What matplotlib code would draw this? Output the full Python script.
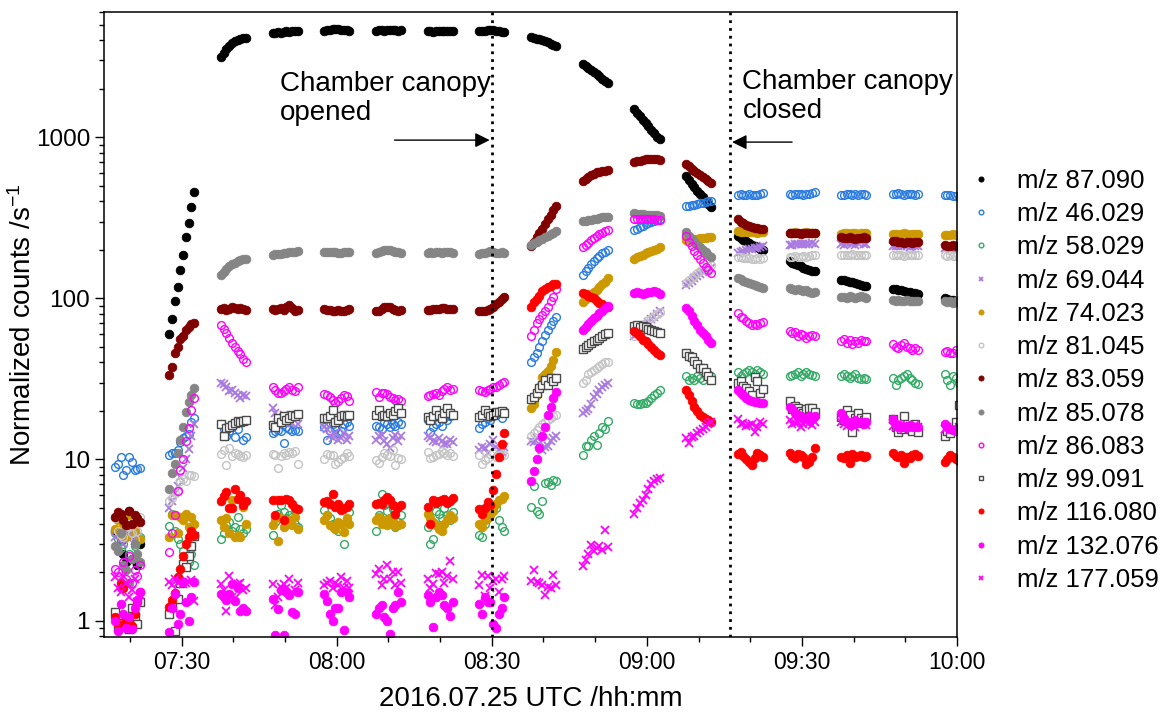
import matplotlib
matplotlib.use("Agg")
import matplotlib.pyplot as plt
from matplotlib.ticker import FixedLocator, FuncFormatter, LogLocator, NullFormatter

plt.rcParams['font.family'] = ['Liberation Sans', 'DejaVu Sans']
plt.rcParams['mathtext.fontset'] = 'custom'
plt.rcParams['mathtext.rm'] = 'Liberation Sans'
plt.rcParams['mathtext.default'] = 'regular'

# ---------------- data ----------------
# start of each measurement cycle, minutes after midnight (UTC)
cycle_start_min = [437.15, 447.6, 457.6, 467.6, 477.6, 487.6, 497.6, 507.6, 517.6,
                   527.6, 537.6, 547.6, 557.6, 567.6, 577.6, 587.6, 597.6]
sample_step_min = 0.54          # spacing of the samples within one cycle
canopy_open_min = 510.0         # 08:30
canopy_close_min = 556.0        # 09:16

labels = ['m/z 87.090', 'm/z 46.029', 'm/z 58.029', 'm/z 69.044', 'm/z 74.023',
          'm/z 81.045', 'm/z 83.059', 'm/z 85.078', 'm/z 86.083', 'm/z 99.091',
          'm/z 116.080', 'm/z 132.076', 'm/z 177.059']

mz_87_090 = [
    [3.6, 4.5, 3.1, 2.6, 2.3, 4.8, 2.4, 3.3, 2.2, 3.0],
    [60, 75, 97, 118, 150, 187, 240, 295, 371, 460],
    [3140, 3350, 3550, 3700, 3850, 3950, 4030, 4080, 4120, 4150],
    [4420, 4450, 4480, 4470, 4520, 4550, 4530, 4580, 4560, 4600],
    [4600, 4620, 4650, 4680, 4700, 4690, 4660, 4640, 4620, 4600],
    [4600, 4610, 4620, 4600, 4620, 4650, 4630, 4610, 4600, 4620],
    [4550, 4560, 4540, 4570, 4580, 4560, 4550, 4570, 4590, 4580],
    [4550, 4580, 4600, 4620, 4640, 4620, 4590, 4560, 4540, 4520],
    [4190, 4150, 4100, 4050, 4000, 3950, 3880, 3820, 3760, 3710],
    [2860, 2780, 2700, 2620, 2540, 2460, 2390, 2310, 2240, 2175],
    [1500, 1420, 1350, 1290, 1230, 1170, 1110, 1060, 1010, 975],
    [576, 545, 515, 490, 465, 445, 425, 405, 388, 371],
    [244, 238, 232, 226, 221, 216, 212, 208, 204, 201],
    [170, 167, 164, 161, 158, 155, 152, 150, 148, 147],
    [131, 130, 128, 127, 126, 124, 122, 121, 120, 119],
    [115, 114, 113, 112, 111, 110, 109, 108, 108, 107],
    [100, 99, 98, 98, 97, 97],
]
mz_46_029 = [
    [9.0, 9.4, 10.3, 8.0, 8.6, 10.4, 9.6, 8.6, 8.7, 8.9],
    [10.7, 10.9, 11.0, 11.5, 12.9, 13.6, 14.0, 14.3, 17.0, 18.0],
    [16.5, 15.4, 14.0, 15.0, 16.0, 13.7, 15.5, 17.0, 13.3, 13.8],
    [14.5, 15.0, 15.2, 15.0, 12.6, 16.0, 15.5, 15.0, 15.2, 15.0],
    [16.0, 13.3, 15.0, 16.5, 15.5, 14.5, 15.0, 16.5, 17.0, 16.1],
    [16.1, 16.0, 15.5, 17.0, 16.5, 16.0, 16.7, 16.2, 17.0, 16.5],
    [17.5, 14.9, 16.0, 16.5, 17.0, 16.2, 18.0, 17.7, 18.5, 19.0],
    [15.6, 16.7, 17.0, 18.0, 17.5, 18.5, 19.0, 19.5, 18.0, 20.0],
    [40, 43, 46, 50, 54, 59, 64, 68, 72, 77],
    [140, 148, 155, 163, 170, 177, 183, 190, 195, 200],
    [265, 270, 276, 282, 288, 293, 298, 302, 305, 310],
    [372, 375, 378, 382, 386, 389, 392, 396, 400, 404],
    [440, 443, 441, 438, 442, 440, 439, 441, 443, 448],
    [444, 440, 442, 446, 443, 441, 445, 444, 450, 458],
    [440, 437, 442, 445, 441, 443, 440, 442, 444, 441],
    [442, 446, 449, 444, 441, 445, 447, 443, 440, 442],
    [438, 441, 436, 432, 430, 428],
]
mz_58_029 = [
    [3.5, 3.2, 2.8, 3.0, 3.6, 2.6, 3.4, 2.9, 3.1, 3.3],
    [3.85, 4.6, 3.6, 3.2, 3.0, 2.7, 2.5, 2.3, 2.6, 2.2],
    [3.2, 3.5, 3.9, 4.1, 3.6, 3.8, 4.4, 3.7, 3.5, 3.7],
    [3.4, 4.1, 4.6, 5.2, 4.7, 4.3, 4.5, 4.4, 4.0, 3.8],
    [4.85, 4.5, 4.3, 4.0, 3.9, 3.6, 3.7, 3.0, 4.2, 4.7],
    [3.6, 4.5, 6.1, 5.2, 4.8, 4.2, 4.9, 3.8, 4.1, 4.5],
    [3.8, 3.0, 3.2, 4.8, 4.6, 4.3, 5.0, 4.5, 4.2, 4.7],
    [3.4, 3.3, 4.0, 4.5, 4.7, 4.9, 5.0, 4.2, 3.8, 3.6],
    [5.1, 6.8, 4.8, 4.6, 5.5, 7.1, 7.2, 6.9, 7.5, 7.3],
    [10.6, 12.2, 12.2, 13.2, 13.9, 12.3, 14.5, 16.0, 15.5, 17.4],
    [22.3, 22.0, 22.0, 22.5, 22.3, 23.0, 24.0, 25.0, 26.0, 27.0],
    [33, 31, 32, 31, 33, 32, 31, 33, 34, 33],
    [35, 33, 34, 35, 36, 35, 34, 36, 35, 34],
    [33, 33.5, 34, 35, 33, 34, 35, 34, 33.5, 33],
    [33, 34, 33, 32, 33, 34, 32, 31.5, 32, 31.6],
    [32, 29, 31, 32, 33, 34, 32, 31, 30, 29.5],
    [34, 31, 29, 33, 32, 30],
]
mz_69_044 = [
    [3.3, 3.5, 3.2, 3.0, 3.6, 3.2, 3.4, 3.1, 3.3, 3.2],
    [5.0, 5.5, 6.2, 6.8, 7.8, 8.8, 10.0, 11.6, 14.0, 16.6],
    [30, 29.5, 28, 26.5, 27, 26, 25, 24, 25, 24.6],
    [21, 19.5, 18.5, 17.5, 19, 18, 17, 16.8, 18.5, 16.5],
    [16, 15.4, 14, 13.5, 14.5, 13.2, 13.6, 14.5, 13.3, 14],
    [13.2, 14, 14.2, 13, 12.5, 11.7, 13.5, 14.2, 13, 14],
    [14, 13.5, 13, 12.8, 13.5, 13, 12.5, 12.5, 13.2, 12.8],
    [11.5, 12, 11.7, 11, 12.5, 13.2, 12, 11.5, 11.2, 12],
    [13, 12.8, 13.5, 12.5, 11.4, 12, 12.2, 13, 13.5, 13.9],
    [19.4, 20, 20.7, 22, 24.5, 25.5, 27, 28, 29, 30],
    [58, 60, 62, 65, 68, 71, 74, 77, 80, 84],
    [121, 125, 129, 133, 137, 141, 145, 148, 151, 155],
    [190, 195, 196, 200, 202, 204, 205, 206, 208, 210],
    [215, 216, 218, 217, 219, 218, 217, 219, 220, 218],
    [218, 215, 220, 222, 218, 216, 220, 223, 219, 217],
    [211, 213, 210, 212, 214, 211, 209, 212, 213, 210],
    [205, 207, 204, 206, 203, 205],
]
mz_74_023 = [
    [3.7, 4.2, 3.4, 4.0, 3.3, 4.5, 3.8, 3.6, 4.1, 3.2],
    [3.3, 4.5, 4.5, 3.5, 4.4, 4.2, 4.6, 3.8, 4.4, 4.0],
    [4.2, 3.8, 4.3, 3.5, 5.6, 3.3, 3.4, 3.3, 5.1, 4.0],
    [3.9, 4.3, 3.1, 4.3, 3.8, 4.0, 4.2, 3.9, 4.4, 3.7],
    [4.2, 4.5, 3.9, 3.8, 3.7, 4.1, 4.0, 3.55, 4.3, 4.0],
    [4.2, 4.4, 4.0, 4.2, 3.9, 4.3, 4.1, 3.85, 3.9, 4.0],
    [4.6, 4.3, 4.1, 3.9, 3.7, 3.6, 4.0, 4.2, 4.5, 4.3],
    [4.0, 3.8, 4.2, 4.3, 4.5, 4.8, 5.3, 5.6, 5.7, 5.9],
    [21, 22, 25, 28, 32.7, 34, 35.6, 38, 41.4, 46.7],
    [95, 99, 102, 106, 110, 113, 118, 122, 127, 134],
    [176, 180, 183, 186, 190, 193, 197, 200, 203, 207],
    [230, 232, 233, 234, 235, 236, 237, 238, 240, 242],
    [262, 260, 258, 261, 259, 257, 258, 256, 258, 257],
    [255, 256, 257, 255, 254, 256, 257, 255, 256, 254],
    [252, 255, 253, 250, 254, 256, 252, 253, 255, 254],
    [250, 252, 249, 251, 253, 250, 248, 251, 252, 250],
    [247, 249, 246, 250, 248, 245],
]
mz_81_045 = [
    [4.3, 3.6, 3.4, 3.3, 4.0, 3.8, 3.5, 3.2, 3.6, 4.4],
    [5.5, 5.8, 6.2, 6.5, 7.3, 7.6, 7.4, 8.0, 8.0, 7.9],
    [10.8, 11.4, 9.2, 11.7, 10.5, 11.0, 10.8, 10.5, 10.3, 10.6],
    [10.8, 10.6, 8.8, 10.5, 11.0, 10.7, 11.2, 10.9, 11.3, 9.4],
    [10.0, 10.8, 10.6, 10.7, 9.4, 9.6, 10.1, 10.3, 11.0, 10.5],
    [9.9, 9.5, 10.4, 10.9, 10.7, 10.5, 11.5, 9.2, 10.2, 10.0],
    [11.2, 10.2, 10.4, 10.6, 10.8, 11.3, 10.9, 10.7, 11.0, 10.5],
    [10.6, 9.4, 9.9, 10.2, 10.8, 11.0, 10.4, 10.6, 10.8, 10.6],
    [13.9, 14.5, 15.3, 16.0, 16.5, 17.0, 17.6, 18.0, 18.5, 19.0],
    [29.8, 31, 34, 35, 36, 37, 37.8, 39, 40, 40.5],
    [58, 61, 64, 67, 70, 73, 76, 78, 80, 82],
    [125, 130, 134, 138, 143, 147, 151, 155, 159, 162],
    [181, 180, 178, 177, 178, 176, 175, 177, 176, 178],
    [182, 181, 183, 180, 182, 184, 181, 183, 185, 186],
    [186, 187, 185, 186, 188, 187, 186, 185, 187, 186],
    [186, 185, 187, 186, 184, 186, 187, 185, 186, 187],
    [185, 184, 186, 183, 184, 182],
]
mz_83_059 = [
    [4.4, 4.7, 4.6, 4.2, 3.9, 4.8, 4.0, 4.5, 4.3, 4.1],
    [33.5, 37.5, 45.8, 50, 55.6, 58, 63.5, 66.8, 69, 70.8],
    [86, 87, 85, 86, 88, 87, 86, 87, 86, 85],
    [86, 85, 86, 87, 85, 88, 91, 87, 83, 85],
    [86, 85, 85, 84, 84, 85, 83, 84, 85, 86],
    [83, 84, 86, 88, 89, 88, 86, 85, 84, 85],
    [85, 85, 86, 86, 86, 87, 87, 86, 86, 86],
    [83, 83, 84, 85, 86, 89, 92, 95, 99, 102],
    [211, 225, 240, 255, 270, 290, 310, 330, 352, 375],
    [535, 555, 570, 585, 595, 605, 610, 617, 622, 627],
    [704, 712, 718, 724, 730, 732, 733, 731, 729, 726],
    [685, 660, 640, 620, 600, 580, 565, 550, 538, 524],
    [311, 300, 292, 285, 280, 277, 274, 272, 270, 271],
    [256, 255, 256, 254, 252, 255, 253, 254, 256, 255],
    [239, 238, 236, 240, 237, 235, 238, 236, 239, 237],
    [228, 226, 224, 225, 222, 224, 223, 222, 224, 225],
    [215, 213, 212, 214, 211, 212],
]
mz_85_078 = [
    [2.9, 2.7, 3.5, 2.2, 2.05, 1.7, 2.4, 3.0, 2.6, 2.3],
    [6.6, 8.2, 9.4, 11, 13.2, 16, 19.8, 22.8, 25, 27.6],
    [139, 145, 152, 160, 163, 167, 170, 172, 175, 176],
    [187, 188, 189, 188, 190, 191, 193, 194, 195, 196],
    [194, 195, 193, 194, 195, 192, 191, 193, 194, 193],
    [190, 193, 197, 200, 201, 199, 196, 194, 193, 192],
    [192, 193, 192, 194, 193, 192, 193, 194, 193, 192],
    [189, 190, 191, 193, 196, 194, 191, 192, 193, 192],
    [214, 220, 225, 230, 235, 240, 245, 250, 256, 262],
    [302, 304, 306, 308, 311, 313, 316, 318, 320, 322],
    [337, 335, 333, 332, 331, 330, 330, 329, 328, 327],
    [257, 245, 235, 225, 215, 207, 200, 193, 187, 181],
    [134, 132, 129, 127, 125, 122, 121, 119, 117, 116],
    [116, 114, 112, 115, 113, 111, 112, 110, 108, 109],
    [102, 102, 101, 103, 102, 101, 102, 103, 102, 101],
    [98, 97, 98, 96, 97, 98, 96, 97, 96, 97],
    [96, 95, 97, 94, 96, 95],
]
mz_86_083 = [
    [2.1, 2.0, 1.6, 2.3, 1.8, 2.5, 1.7, 2.07, 1.9, 2.2],
    [2.66, 3.5, 4.5, 6.4, 8.6, 10, 13, 15.6, 20.3, 24],
    [68, 65, 61, 57, 53, 50, 47, 45, 42, 40.5],
    [28, 27, 25.7, 26, 26.5, 27.5, 28, 27, 26.5, 28],
    [25.5, 25.2, 24.5, 23.5, 22.4, 23, 24, 25, 24.6, 23],
    [26.4, 24.5, 25.8, 26, 25.5, 24.5, 24, 23.5, 23.8, 23],
    [24.6, 25, 25.5, 26, 25.3, 26.5, 27.5, 28.3, 27, 27.5],
    [27, 26.5, 26.4, 27, 27.5, 28, 28.3, 29, 30, 30.4],
    [58, 64, 70, 75, 79, 84, 89, 96, 102, 114],
    [207, 215, 222, 230, 238, 245, 250, 256, 262, 267],
    [311, 312, 313, 312, 310, 311, 309, 310, 308, 306],
    [243, 225, 210, 197, 185, 175, 165, 157, 150, 144],
    [80.7, 77, 76, 72, 70, 68.7, 69, 68, 70, 71],
    [63, 61, 62, 58, 60, 59, 57, 58, 59, 58],
    [54.7, 56, 53, 55, 52, 54, 53, 55, 54, 54],
    [52, 50, 49, 51, 53, 50, 49, 48, 49, 48],
    [46.6, 47, 45.5, 46, 47.5, 46],
]
mz_99_091 = [
    [1.13, 0.91, 0.93, 0.96, 1.0, 0.88, 1.2, 1.05, 0.95, 1.3],
    [1.1, 1.22, 0.86, 1.36, 1.7, 2.25, 2.15, 2.5, 2.9, 3.35],
    [16.7, 13.9, 15.6, 15.8, 16.4, 16.8, 17.4, 17.2, 17.4, 17.6],
    [16.4, 15.9, 18, 17, 18.5, 17.5, 18.2, 18.8, 18.5, 19.1],
    [18.2, 18.2, 18.5, 20.4, 17, 17.5, 18.5, 19, 18.5, 19],
    [19, 20.2, 18.5, 18.8, 18.5, 19.5, 19, 20, 20.8, 19.5],
    [18.4, 17.5, 18.5, 20.4, 19, 18.2, 19.5, 20.8, 19.5, 18.8],
    [18.4, 19, 20.4, 19.5, 18.7, 19, 19.6, 19.8, 20, 19.4],
    [23.7, 24.5, 25.7, 27.7, 29, 31.3, 29, 32, 30.5, 31.9],
    [48.5, 50, 51.6, 52.5, 54.2, 55.5, 57, 58.5, 60, 61.1],
    [67, 68, 66, 67, 66, 65, 64, 63, 62, 61],
    [45.6, 44, 43, 41, 39, 37, 36.8, 35, 33, 31.2],
    [29.8, 30.5, 28.5, 27.8, 26.5, 25, 32.7, 30.5, 25.8, 27.5],
    [22.9, 20.5, 21.5, 21, 20, 19.5, 20.5, 21, 20.8, 19.8],
    [18.4, 17.5, 20.2, 19, 14.8, 18, 19.5, 18, 17.5, 18.3],
    [17.9, 16, 14.9, 15.5, 18.5, 16, 15.5, 15, 16.5, 14.8],
    [13.9, 15, 14.5, 15.5, 17, 21.8],
]
mz_116_080 = [
    [1.05, 0.95, 1.7, 1.6, 1.0, 0.98, 0.92, 1.1, 1.3, 1.5],
    [1.21, 1.35, 1.49, 1.86, 2.1, 2.5, 3.0, 3.3, 3.6, 3.4],
    [5.5, 5.9, 6.3, 5.0, 5.0, 6.6, 5.7, 6.0, 5.2, 5.5],
    [5.6, 4.5, 5.6, 5.6, 4.2, 5.7, 5.6, 5.3, 5.0, 4.95],
    [5.47, 5.5, 5.3, 6.1, 5.1, 5.3, 4.85, 5.0, 5.1, 5.3],
    [5.3, 5.4, 5.3, 5.6, 5.85, 5.6, 5.2, 4.6, 5.1, 5.2],
    [5.1, 4.0, 5.6, 5.4, 5.5, 5.6, 5.7, 5.4, 5.5, 5.8],
    [4.95, 4.6, 5.0, 5.47, 5.2, 6.45, 8.1, 10.4, 12.5, 14.6],
    [89, 95, 99, 104, 111, 115, 118, 120, 122, 123],
    [108, 106, 104, 102, 100, 97, 94, 92, 90, 89],
    [63, 61, 58, 55, 54.2, 52, 50, 47.8, 46, 44.8],
    [27, 25, 23, 21.3, 20, 19, 18.4, 17.8, 17.5, 17.2],
    [10.8, 11.2, 10.5, 10, 9.6, 9.2, 10.2, 11, 10.6, 10.4],
    [10.9, 10.5, 10.2, 10.8, 10.6, 10.4, 9.4, 9.6, 10.3, 11.7],
    [10.4, 10.2, 10.6, 9.5, 10.8, 10.4, 10.5, 10.7, 10.3, 10.5],
    [10.9, 10.5, 10.3, 10.6, 9.5, 10.4, 10.2, 10.6, 10.8, 10.5],
    [9.7, 10.1, 10.6, 10.3, 10.0, 9.8],
]
mz_132_076 = [
    [1.0, 0.86, 1.27, 1.1, 0.9, 1.05, 0.88, 1.2, 1.35, 1.5],
    [0.85, 1.2, 1.47, 0.95, 1.1, 1.73, 1.3, 1.0, 1.4, 1.73],
    [1.47, 1.4, 1.35, 1.47, 1.69, 1.33, 1.6, 1.15, 1.2, 1.15],
    [1.36, 0.81, 1.18, 1.54, 0.81, 1.5, 1.45, 1.13, 1.1, 1.5],
    [1.47, 1.33, 1.1, 0.99, 1.2, 1.2, 1.5, 0.87, 1.5, 1.4],
    [1.1, 1.2, 1.25, 1.05, 1.0, 0.83, 1.2, 1.25, 1.5, 1.3],
    [1.43, 1.3, 0.91, 1.4, 1.5, 1.45, 1.25, 1.2, 1.07, 1.3],
    [1.27, 1.1, 1.4, 1.3, 1.3, 0.95, 0.9, 1.1, 1.2, 1.4],
    [7.4, 8.5, 10, 11.7, 13.9, 16, 19, 21.2, 24, 26.4],
    [63.9, 66, 69, 72, 75.4, 78, 81, 84, 87, 89.3],
    [108, 109, 108, 107, 108, 109, 110, 110.5, 109, 107],
    [87.4, 83, 78, 72.2, 68, 64, 61, 58, 55, 52.8],
    [27, 26, 25, 24, 23.5, 23, 22.8, 22.6, 22.5, 22.4],
    [21.2, 20.5, 19.5, 19, 18.5, 18, 18.2, 18.5, 17.8, 18.5],
    [19.4, 18, 17, 16.4, 17, 17.5, 16.8, 17.2, 16.5, 17],
    [17.9, 16.5, 16, 16.2, 15.8, 16, 16.4, 15.8, 16, 15.9],
    [16.7, 16, 15.5, 15.2, 15, 15.3],
]
mz_177_059 = [
    [1.86, 1.6, 1.5, 1.9, 1.7, 1.4, 1.55, 1.8, 1.3, 1.45],
    [1.73, 1.65, 1.8, 1.7, 1.75, 1.68, 1.72, 1.73, 1.78, 1.32],
    [1.69, 1.55, 1.14, 1.88, 1.4, 1.38, 1.69, 1.7, 1.55, 1.6],
    [1.69, 1.24, 1.4, 1.62, 1.69, 1.6, 1.82, 1.5, 1.55, 1.7],
    [1.65, 1.7, 1.75, 1.6, 1.7, 1.66, 1.86, 1.6, 1.75, 1.6],
    [1.95, 2.1, 1.65, 1.8, 2.2, 1.8, 2.0, 1.65, 2.0, 1.7],
    [1.82, 1.6, 1.69, 1.97, 1.95, 2.0, 1.7, 1.9, 2.34, 1.8],
    [1.65, 1.93, 1.41, 1.88, 1.6, 1.75, 1.8, 1.5, 1.82, 1.9],
    [1.77, 2.07, 1.74, 1.7, 1.66, 1.43, 1.62, 1.6, 1.93, 1.65],
    [2.17, 2.38, 2.6, 2.93, 2.7, 2.8, 2.9, 2.75, 3.63, 2.85],
    [4.6, 5.0, 5.4, 5.6, 6.0, 6.6, 7.0, 7.4, 7.6, 7.7],
    [13.5, 12.6, 13.8, 14, 14.5, 15, 15.5, 16, 16.5, 17.2],
    [17.9, 16.5, 16.8, 16.2, 16.3, 16.5, 14.9, 15.8, 17.2, 16.5],
    [17.6, 16.5, 16.8, 17, 16, 16.5, 17.2, 16.8, 16.3, 17],
    [17, 16.5, 16.2, 17, 16.8, 16, 16.5, 17.2, 16.8, 16.4],
    [16.2, 15.8, 16.5, 16, 15.5, 16.3, 16.1, 15.8, 16.4, 16],
    [15.5, 15.8, 15.2, 15.6, 15.3, 15.9],
]

series_data = [mz_87_090, mz_46_029, mz_58_029, mz_69_044, mz_74_023, mz_81_045,
               mz_83_059, mz_85_078, mz_86_083, mz_99_091, mz_116_080, mz_132_076,
               mz_177_059]

# ---------------- styles ----------------
MS = 6.2


def filled(c):
    return dict(marker='o', ms=MS, mfc=c, mec=c, mew=0.6)


def hollow(c):
    return dict(marker='o', ms=MS - 0.6, mfc='none', mec=c, mew=1.0)


def cross(c):
    return dict(marker='x', ms=MS - 0.6, mec=c, mew=1.3)


styles = [
    filled('#000000'),
    hollow('#2A7BE0'),
    hollow('#33AA66'),
    cross('#A97BE0'),
    filled('#CC9900'),
    hollow('#C4C4C4'),
    filled('#800000'),
    filled('#858585'),
    hollow('#FF00FF'),
    dict(marker='s', ms=MS - 1.0, mfc='white', mec='#4A4A4A', mew=1.0),
    filled('#FF0000'),
    filled('#FF00FF'),
    cross('#FF00FF'),
]

# ---------------- figure ----------------
W, H = 1169, 715
fig = plt.figure(figsize=(W / 100, H / 100), dpi=100)
ax = fig.add_axes([104 / W, 1 - 637 / H, (957 - 104) / W, (637 - 12) / H])

for label, data, st in zip(labels, series_data, styles):
    xs, ys = [], []
    for start, vals in zip(cycle_start_min, data):
        for i, v in enumerate(vals):
            xs.append(start + i * sample_step_min)
            ys.append(v)
    ax.plot(xs, ys, linestyle='none', label=label, **st)

ax.set_yscale('log')
ax.set_xlim(435, 600)
ax.set_ylim(0.79, 6000)

ax.xaxis.set_major_locator(FixedLocator([450, 480, 510, 540, 570, 600]))
ax.xaxis.set_minor_locator(FixedLocator(list(range(440, 601, 10))))
ax.xaxis.set_major_formatter(FuncFormatter(lambda v, p: '%02d:%02d' % (int(v) // 60, int(v) % 60)))
ax.yaxis.set_major_locator(FixedLocator([1, 10, 100, 1000]))
ax.yaxis.set_major_formatter(FuncFormatter(lambda v, p: '%d' % v))
ax.yaxis.set_minor_locator(LogLocator(base=10, subs=range(2, 10)))
ax.yaxis.set_minor_formatter(NullFormatter())

ax.tick_params(which='both', direction='out', top=False, right=False, width=1.0)
ax.tick_params(axis='x', labelsize=16.5)
ax.tick_params(axis='y', labelsize=17.5)
ax.tick_params(which='major', length=6.5)
ax.tick_params(which='minor', length=3.5)
for s in ax.spines.values():
    s.set_linewidth(1.1)

ax.set_xlabel('2016.07.25 UTC /hh:mm', fontsize=20, labelpad=9)
ax.set_ylabel('Normalized counts /s$^{-1}$', fontsize=20, labelpad=-1)

for t in (canopy_open_min, canopy_close_min):
    ax.axvline(t, color='black', lw=2.0, ls=(0, (1, 1.8)), zorder=5)

ax.text(469.1, 1750, 'Chamber canopy\nopened', fontsize=20, ha='left', va='center', linespacing=1.15)
ax.text(558.5, 1780, 'Chamber canopy\nclosed', fontsize=20, ha='left', va='center', linespacing=1.15)
ax.annotate('', xy=(509.6, 961), xytext=(491.2, 961),
            arrowprops=dict(arrowstyle='-|>', color='black', lw=1.0, mutation_scale=22, shrinkA=0, shrinkB=0))
ax.annotate('', xy=(556.5, 934), xytext=(568.1, 934),
            arrowprops=dict(arrowstyle='-|>', color='black', lw=1.0, mutation_scale=22, shrinkA=0, shrinkB=0))

fig.legend(loc='center left', bbox_to_anchor=(0.8125, 0.468), frameon=False, fontsize=18.5,
           markerscale=0.6, handlelength=1.0, handletextpad=0.9, labelspacing=0.36,
           borderpad=0.2)

fig.savefig('out.png', dpi=100)
